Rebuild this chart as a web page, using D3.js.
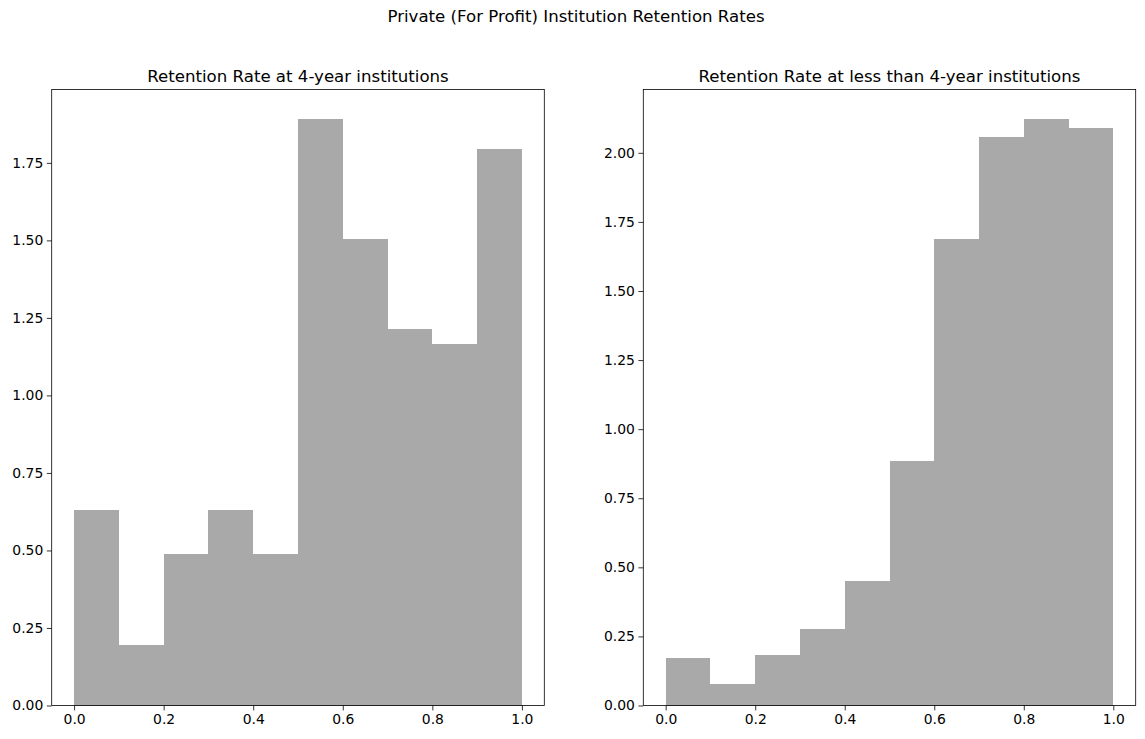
<!DOCTYPE html>
<html><head><meta charset="utf-8">
<script src="https://cdn.jsdelivr.net/npm/d3@7"></script>
<style>body{margin:0;background:#fff}svg{display:block}text{font-family:"DejaVu Sans",sans-serif}</style>
</head><body><svg id="c" width="1145" height="739"></svg>
<script>
const suptitle = "Private (For Profit) Institution Retention Rates";
const binEdges = [0,0.1,0.2,0.3,0.4,0.5,0.6,0.7,0.8,0.9,1.0];
const title4yr = "Retention Rate at 4-year institutions";
const density4yr = [0.632,0.195,0.487,0.632,0.487,1.892,1.505,1.213,1.165,1.795];
const titleLess = "Retention Rate at less than 4-year institutions";
const densityLess = [0.172,0.076,0.184,0.278,0.452,0.886,1.689,2.058,2.123,2.09];
const xTicks = [0,0.2,0.4,0.6,0.8,1.0];
const yTicks4yr = [0,0.25,0.5,0.75,1.0,1.25,1.5,1.75];
const yTicksLess = [0,0.25,0.5,0.75,1.0,1.25,1.5,1.75,2.0];

const svg = d3.select("#c");
svg.append("text").attr("x",576).attr("y",22).attr("text-anchor","middle")
  .attr("font-size","16.6px").text(suptitle);

const plotTop=89.5, plotBottom=705.5;
function panel(x0,x1,title,vals,yt){
  const g = svg.append("g");
  const x = d3.scaleLinear().domain([-0.05,1.05]).range([x0,x1]);
  const y = d3.scaleLinear().domain([0,d3.max(vals)*1.05]).range([plotBottom,plotTop]);
  g.selectAll("rect.bar").data(vals).join("rect").attr("class","bar")
    .attr("x",(d,i)=>x(binEdges[i])).attr("width",(d,i)=>x(binEdges[i+1])-x(binEdges[i]))
    .attr("y",d=>y(d)).attr("height",d=>y(0)-y(d)).attr("fill","#a9a9a9")
    .attr("shape-rendering","crispEdges");
  const xa = g.append("g").attr("transform",`translate(0,${plotBottom})`)
    .call(d3.axisBottom(x).tickValues(xTicks).tickFormat(d3.format(".1f")).tickSizeOuter(0).tickSize(4.9).tickPadding(3.5));
  const ya = g.append("g").attr("transform",`translate(${x0},0)`)
    .call(d3.axisLeft(y).tickValues(yt).tickFormat(d3.format(".2f")).tickSizeOuter(0).tickSize(4.9).tickPadding(3.5));
  [xa,ya].forEach(a=>{a.select(".domain").remove();a.selectAll("text").attr("font-size","13.9px").attr("fill","#000");a.selectAll("line").attr("stroke","#000").attr("stroke-width",0.8);});
  g.append("rect").attr("x",x0).attr("y",plotTop).attr("width",x1-x0).attr("height",plotBottom-plotTop)
    .attr("fill","none").attr("stroke","#000").attr("stroke-width",0.8);
  g.append("text").attr("x",(x0+x1)/2).attr("y",plotTop-8).attr("text-anchor","middle")
    .attr("font-size","16.6px").text(title);
}
panel(51.7,544.3,title4yr,density4yr,yTicks4yr);
panel(643.3,1135.7,titleLess,densityLess,yTicksLess);
</script></body></html>
